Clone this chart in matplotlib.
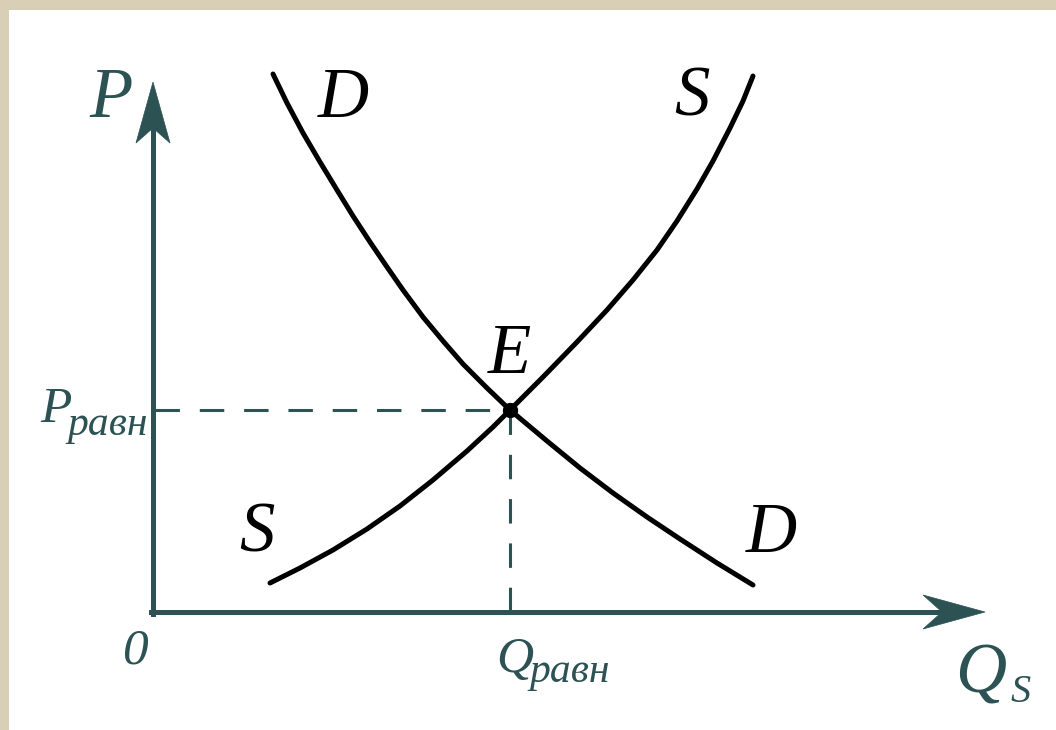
import matplotlib.pyplot as plt
from matplotlib.patches import Rectangle, Polygon

# values (units: 1 = 100 px, origin at the axes corner)
demand_q = [1.20, 1.34, 1.50, 1.67, 1.84, 2.00, 2.17, 2.34, 2.50, 2.70, 2.90, 3.10, 3.34, 3.57,
            3.94, 4.27, 4.60, 4.94, 5.27, 5.64, 6.00]
demand_p = [5.38, 5.09, 4.79, 4.50, 4.22, 3.96, 3.70, 3.45, 3.22, 2.95, 2.71, 2.48, 2.24, 2.02,
            1.71, 1.44, 1.19, 0.95, 0.73, 0.49, 0.27]
supply_q = [1.17, 1.47, 1.80, 2.14, 2.47, 2.80, 3.14, 3.40, 3.57, 3.90, 4.24, 4.54, 4.80,
            5.04, 5.24, 5.44, 5.60, 5.77, 5.90, 6.00]
supply_p = [0.29, 0.44, 0.62, 0.83, 1.06, 1.32, 1.61, 1.85, 2.02, 2.35, 2.70, 3.02, 3.32,
            3.62, 3.91, 4.23, 4.51, 4.84, 5.11, 5.36]
q_eq = 3.57
p_eq = 2.02

teal = '#2d5254'
serif = 'Liberation Serif'

fig = plt.figure(figsize=(10.56, 7.30), dpi=100)
fig.patch.set_facecolor('#d9cfb6')
fig.patches.append(Rectangle((9 / 1056, 0), 1, 720 / 730, transform=fig.transFigure,
                             facecolor='white', edgecolor='none', zorder=-5))

ax = fig.add_axes([0, 0, 1, 1])
ax.set_zorder(2)
ax.set_xlim(-1.53, 9.03)
ax.set_ylim(-1.18, 6.12)
ax.axis('off')
ax.patch.set_alpha(0)

# axes with arrow heads
ax.plot([0, 0], [-0.02, 4.88], color=teal, lw=3.6, solid_capstyle='projecting')
ax.plot([-0.02, 7.92], [0, 0], color=teal, lw=3.6, solid_capstyle='projecting')
ax.add_patch(Polygon([(0, 5.30), (0.17, 4.69), (0, 4.84), (-0.17, 4.69)],
                     closed=True, facecolor=teal, edgecolor=teal, lw=0.5))
ax.add_patch(Polygon([(8.32, 0), (7.70, 0.17), (7.89, 0), (7.70, -0.17)],
                     closed=True, facecolor=teal, edgecolor=teal, lw=0.5))

# guide lines to equilibrium
ax.plot([0.02, q_eq], [p_eq, p_eq], color=teal, lw=2.2, dashes=(8, 6.5))
ax.plot([q_eq, q_eq], [p_eq, 0.02], color=teal, lw=2.2, dashes=(8, 6.5))

# curves
ax.plot(demand_q, demand_p, color='black', lw=3.6, solid_capstyle='round', solid_joinstyle='round')
ax.plot(supply_q, supply_p, color='black', lw=3.6, solid_capstyle='round', solid_joinstyle='round')
ax.plot([q_eq], [p_eq], 'o', color='black', ms=10)

big = dict(family=serif, style='italic', fontsize=51, va='baseline', ha='center')
ax.text(-0.42, 4.95, 'P', color=teal, **big)
ax.text(1.90, 4.95, 'D', color='black', **big)
ax.text(5.39, 4.97, 'S', color='black', **big)
ax.text(3.56, 2.39, 'E', color='black', **big)
ax.text(1.04, 0.60, 'S', color='black', **big)
ax.text(6.18, 0.60, 'D', color='black', **big)
ax.text(8.28, -0.81, 'Q', color=teal, **big)
ax.text(8.58, -0.90, 'S', color=teal, family=serif, style='italic', fontsize=29, va='baseline', ha='left')

mid = dict(family=serif, style='italic', fontsize=37, va='baseline', ha='center', color=teal)
sub = dict(family=serif, style='italic', fontsize=30, va='baseline', ha='left', color=teal)
ax.text(-0.97, 1.90, 'P', **mid)
ax.text(-0.86, 1.77, 'равн', **sub)
ax.text(3.62, -0.60, 'Q', **mid)
ax.text(3.76, -0.70, 'равн', **sub)
ax.text(-0.18, -0.51, '0', **mid)

fig.savefig('out.png', dpi=100, facecolor=fig.get_facecolor())
